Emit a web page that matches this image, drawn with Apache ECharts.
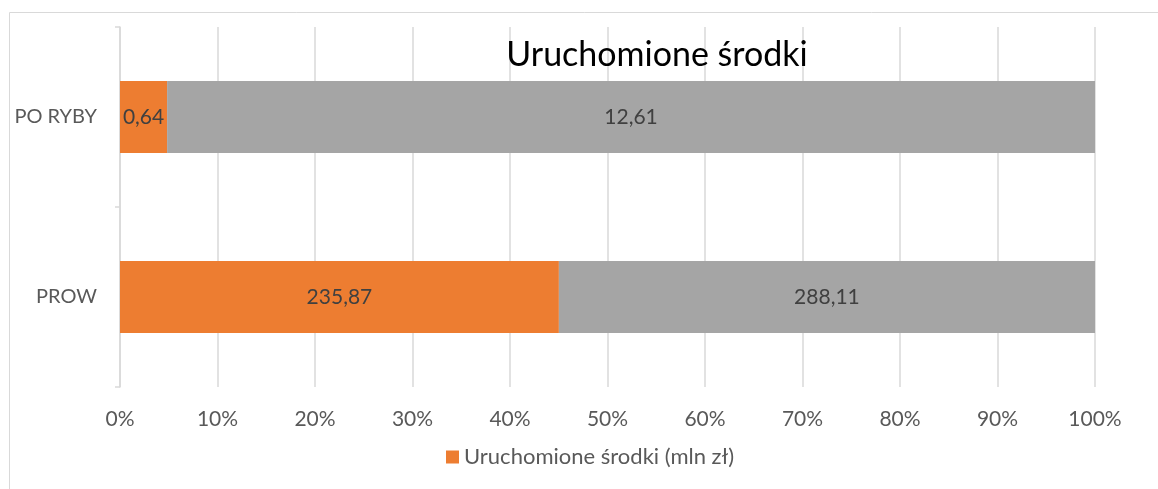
<!DOCTYPE html>
<html lang="pl">
<head>
    <meta charset="UTF-8">
    <title>Uruchomione środki</title>
    <script src="https://cdn.jsdelivr.net/npm/echarts@6/dist/echarts.min.js"></script>
    <style>
        html, body { margin: 0; padding: 0; background: #fff; }
        #chart { width: 1158px; height: 489px; }
    </style>
</head>
<body>
<div id="chart"></div>
<script>
    // dane z wykresu (mln zł)
    var categories = ['PROW', 'PO RYBY'];
    var uruchomione = [235.87, 0.64];
    var pozostale = [288.11, 12.61];
    var xTicks = [0, 10, 20, 30, 40, 50, 60, 70, 80, 90, 100];

    var FONT = 'Lato';
    var TXT = '#595959';

    // udział procentowy (wykres 100%)
    function pct(a, i) {
        return a[i] / (uruchomione[i] + pozostale[i]) * 100;
    }
    function fmt(v) {
        return v.toFixed(2).replace('.', ',');
    }
    var s1 = uruchomione.map(function (v, i) { return { value: pct(uruchomione, i), raw: v }; });
    var s2 = pozostale.map(function (v, i) { return { value: pct(pozostale, i), raw: v }; });

    var myChart = echarts.init(document.getElementById('chart'));
    var option = {
        animation: false,
        title: {
            text: 'Uruchomione środki',
            left: 652, top: 33,
            textAlign: 'center',
            textStyle: { fontFamily: FONT, fontSize: 34, fontWeight: 'normal', color: '#000' }
        },
        graphic: [{
            type: 'rect',
            shape: { x: 9.5, y: 12.5, width: 1200, height: 520 },
            style: { fill: 'none', stroke: '#d9d9d9', lineWidth: 1 },
            silent: true
        }],
        legend: {
            data: ['Uruchomione środki (mln zł)'],
            left: 441, top: 441,
            itemWidth: 13, itemHeight: 13, itemGap: 6,
            icon: 'rect',
            textStyle: { fontFamily: FONT, fontSize: 22, color: TXT }
        },
        grid: { left: 120, right: 63, top: 27, bottom: 102 },
        xAxis: {
            type: 'value',
            min: xTicks[0], max: xTicks[xTicks.length - 1], interval: 10,
            axisLine: { show: false },
            axisTick: { show: false },
            splitLine: { lineStyle: { color: '#d9d9d9', width: 1.5 } },
            axisLabel: {
                margin: 22,
                fontFamily: FONT, fontSize: 21, color: TXT,
                formatter: function (v) { return v + '%'; }
            }
        },
        yAxis: {
            type: 'category',
            data: categories,
            axisLine: { lineStyle: { color: '#d9d9d9', width: 1.5 } },
            axisTick: { show: true, length: 5, lineStyle: { color: '#d9d9d9', width: 1.5 } },
            axisLabel: { margin: 23, fontFamily: FONT, fontSize: 20, color: TXT }
        },
        series: [{
            name: 'Uruchomione środki (mln zł)',
            type: 'bar',
            stack: 'all',
            barWidth: '40%',
            data: s1,
            itemStyle: { color: '#ED7D31' },
            label: {
                show: true, position: 'inside',
                fontFamily: FONT, fontSize: 21, color: '#404040',
                formatter: function (p) { return fmt(p.data.raw); }
            }
        }, {
            name: 'pozostałe',
            type: 'bar',
            stack: 'all',
            barWidth: '40%',
            data: s2,
            itemStyle: { color: '#A5A5A5' },
            label: {
                show: true, position: 'inside',
                fontFamily: FONT, fontSize: 21, color: '#404040',
                formatter: function (p) { return fmt(p.data.raw); }
            }
        }]
    };
    myChart.setOption(option);
</script>
</body>
</html>
